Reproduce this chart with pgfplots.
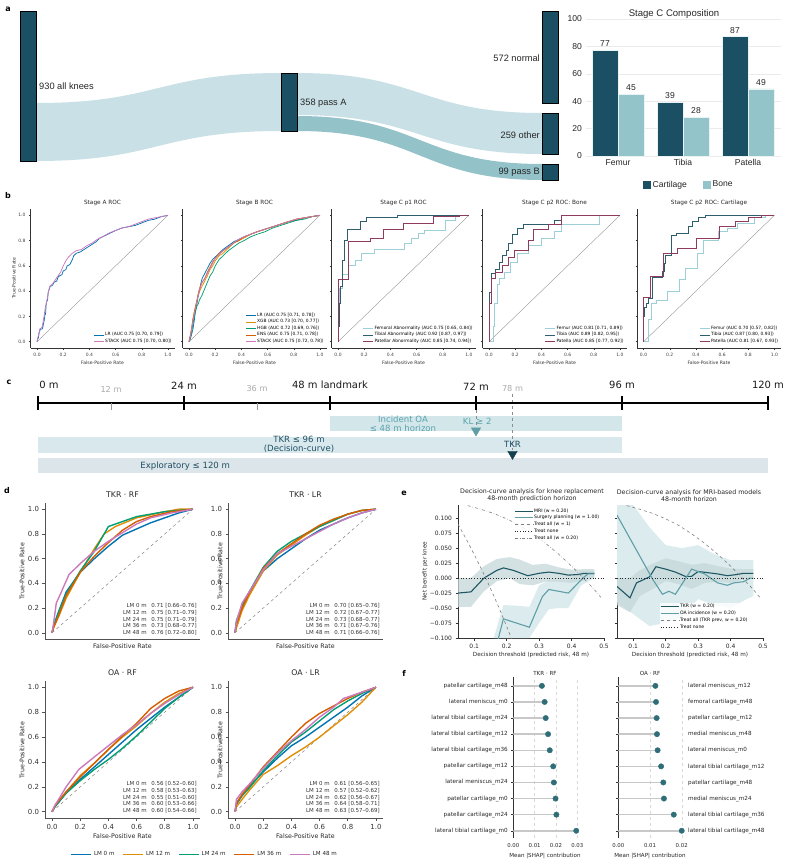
\documentclass[border=0pt]{standalone}
\usepackage{pgfplots}
\pgfplotsset{compat=1.18}
\usepackage{fontspec}
\setmainfont{DejaVu Sans}
\newfontfamily\arial{Liberation Sans}
\newcommand\fs[2]{\fontsize{#1}{#2}\selectfont}

% palette
\definecolor{navy}{HTML}{1B4F63}
\definecolor{flowA}{HTML}{C9E1E6}
\definecolor{flowB}{HTML}{93C2C9}
\definecolor{boneC}{HTML}{93C4C9}
\definecolor{cbBlue}{HTML}{0173B2}
\definecolor{cbOrange}{HTML}{DE8F05}
\definecolor{cbGreen}{HTML}{029E73}
\definecolor{cbRed}{HTML}{D55E00}
\definecolor{cbPink}{HTML}{CC78BC}
\definecolor{femC}{HTML}{9CCFD8}
\definecolor{tibC}{HTML}{2E5E6E}
\definecolor{patC}{HTML}{8E3B5E}
\definecolor{spine}{HTML}{333333}
\definecolor{tkrC}{HTML}{1F5663}
\definecolor{oaC}{HTML}{5F9EA6}
\definecolor{dotC}{HTML}{2F6E78}
\definecolor{stemC}{HTML}{C8C8C8}
\definecolor{barOA}{HTML}{D3E7EB}
\definecolor{barTKR}{HTML}{D8E8EC}
\definecolor{barExp}{HTML}{DCE5E9}
\definecolor{txtOA}{HTML}{5AA3AD}
\definecolor{txtNavy}{HTML}{1D4F63}
\definecolor{grayTxt}{HTML}{AAAAAA}
\definecolor{bandDark}{HTML}{C4D7D9}
\definecolor{bandLight}{HTML}{DCEBED}

\pgfplotsset{
  scale only axis,
  /pgf/number format/assume math mode=true,
  rocb/.style={
    width=144bp, height=139bp,
    xmin=-0.05, xmax=1.05, ymin=-0.05, ymax=1.05,
    axis x line*=bottom, axis y line*=left,
    axis line style={-, spine, line width=0.7pt},
    xtick={0,0.2,0.4,0.6,0.8,1}, ytick={0,0.2,0.4,0.6,0.8,1},
    xticklabels={0.0,0.2,0.4,0.6,0.8,1.0},
    yticklabels={0.0,0.2,0.4,0.6,0.8,1.0},
    tick label style={font=\fs{4.5}{5}, text=black!75},
    tick align=outside, major tick length=1.5bp,
    tick style={spine, line width=0.4pt},
    legend style={at={(0.99,0.02)}, anchor=south east, draw=none,
      fill=white, fill opacity=0.8, text opacity=1,
      font=\fs{4.4}{5}, legend cell align=left,
      nodes={inner sep=0.8bp}, inner sep=0.5bp},
    legend image code/.code={\draw[#1] (0bp,0bp) -- (10bp,0bp);},
    every axis plot/.append style={line width=0.75pt},
  },
  rocd/.style={
    width=155bp, height=136bp,
    xmin=-0.05, xmax=1.05, ymin=-0.05, ymax=1.05,
    axis x line*=bottom, axis y line*=left,
    axis line style={-, spine!85, line width=0.9pt},
    xtick={0,0.2,0.4,0.6,0.8,1}, ytick={0,0.2,0.4,0.6,0.8,1},
    xticklabels={0.0,0.2,0.4,0.6,0.8,1.0},
    yticklabels={0.0,0.2,0.4,0.6,0.8,1.0},
    tick label style={font=\fs{7}{8}, text=black!80},
    tick align=outside, major tick length=2.5bp,
    tick style={spine!85, line width=0.6pt},
    every axis plot/.append style={line width=1.4pt},
  },
  dca/.style={
    width=146bp, height=133bp,
    xmin=0.05, xmax=0.5, ymin=-0.1, ymax=0.122,
    axis x line*=bottom, axis y line*=left,
    axis line style={-, spine, line width=0.8pt},
    xtick={0.1,0.2,0.3,0.4,0.5}, xticklabels={0.1,0.2,0.3,0.4,0.5},
    ytick={-0.1,-0.075,-0.05,-0.025,0,0.025,0.05,0.075,0.1},
    yticklabels={−0.100,−0.075,−0.050,−0.025,0.000,0.025,0.050,0.075,0.100},
    tick label style={font=\fs{6}{7}, text=black!85},
    tick align=outside, major tick length=2.5bp,
    tick style={spine, line width=0.6pt},
    legend style={draw=none, fill=white, fill opacity=0.8, text opacity=1,
      font=\fs{4.6}{5}, legend cell align=left,
      nodes={inner sep=0.9bp}, inner sep=0.5bp},
    legend image code/.code={\draw[#1] (0bp,0bp) -- (18bp,0bp);},
  },
  shap/.style={
    width=64bp, height=161bp, ymin=-0.45, ymax=9.55, xmin=0,
    axis x line*=bottom, axis y line*=left,
    axis line style={-, spine, line width=0.8pt},
    x axis line style={draw=none},
    scaled x ticks=false,
    ytick={0,1,2,3,4,5,6,7,8,9},
    tick label style={font=\fs{5.4}{6}, text=black!85},
    yticklabel style={font=\fs{5.7}{6}},
    xtick style={draw=none},
    ytick style={spine, line width=0.5pt},
    tick align=outside, major tick length=2bp,
    xmajorgrids, grid style={dashed, black!15, line width=0.4pt},
  },
}

\begin{document}
\begin{tikzpicture}
\path[use as bounding box] (0,0) rectangle (794bp,-865bp);

% ---------------- panel letters ----------------
\begin{scope}[every node/.style={font=\bfseries\fs{8}{9}}]
\node at (8bp,-9bp) {a};
\node at (8bp,-196bp) {b};
\node at (9bp,-382bp) {c};
\node at (7bp,-491bp) {d};
\node at (404bp,-493bp) {e};
\node at (404bp,-673bp) {f};
\end{scope}

% ---------------- a: cohort flow ----------------
\begin{axis}[at={(0bp,0bp)}, anchor=north west, width=560bp, height=190bp,
  xmin=0, xmax=560, ymin=0, ymax=190, y dir=reverse, hide axis, clip=false]
  \fill[flowA] (axis cs:36,103) .. controls (axis cs:158,103) and (axis cs:159,73) .. (axis cs:281,73)
     -- (axis cs:281,131) .. controls (axis cs:159,131) and (axis cs:158,161) .. (axis cs:36,161) -- cycle;
  \fill[flowA] (axis cs:297,73) .. controls (axis cs:420,73) and (axis cs:420,113) .. (axis cs:542,113)
     -- (axis cs:542,154) .. controls (axis cs:420,154) and (axis cs:420,115) .. (axis cs:297,115) -- cycle;
  \fill[flowB] (axis cs:297,116) .. controls (axis cs:420,116) and (axis cs:420,164) .. (axis cs:542,164)
     -- (axis cs:542,180) .. controls (axis cs:420,180) and (axis cs:420,131) .. (axis cs:297,131) -- cycle;
  % nodes: 930, 358, 572, 259, 99 knees
  \addplot[fill=navy, draw=black, line width=0.5pt] coordinates {(20,11)(36,11)(36,161)(20,161)(20,11)};
  \addplot[fill=navy, draw=black, line width=0.5pt] coordinates {(281,73)(297,73)(297,131)(281,131)(281,73)};
  \addplot[fill=navy, draw=black, line width=0.5pt] coordinates {(542,11)(558,11)(558,103)(542,103)(542,11)};
  \addplot[fill=navy, draw=black, line width=0.5pt] coordinates {(542,113)(558,113)(558,154)(542,154)(542,113)};
  \addplot[fill=navy, draw=black, line width=0.5pt] coordinates {(542,164)(558,164)(558,180)(542,180)(542,164)};
  \begin{scope}[every node/.style={font=\arial\fs{9.3}{10}, text=black!85, inner sep=1bp}]
  \node[anchor=west] at (axis cs:38,86) {930 all knees};
  \node[anchor=west] at (axis cs:299,103) {358 pass A};
  \node[anchor=east] at (axis cs:541,58) {572 normal};
  \node[anchor=east] at (axis cs:541,135) {259 other};
  \node[anchor=east] at (axis cs:541,172) {99 pass B};
  \end{scope}
\end{axis}

% ---------------- a: stage C composition ----------------
\node[font=\arial\fs{9.6}{10}, text=black!85] at (674bp,-14bp) {Stage C Composition};
\begin{axis}[at={(585.5bp,-156bp)}, anchor=south west, width=195bp, height=137bp,
  xmin=-0.5, xmax=2.5, ymin=0, ymax=100,
  xtick={0,1,2}, xticklabels={Femur,Tibia,Patella},
  ytick={0,20,40,60,80,100},
  axis line style={draw=none}, tick style={draw=none},
  ymajorgrids, grid style={black!8, line width=0.5pt},
  tick label style={font=\arial\fs{8.6}{9}, text=black!85},
  legend style={at={(0.53,-0.21)}, anchor=center, legend columns=2, draw=none,
    font=\arial\fs{8.6}{9}, text=black!85,
    /tikz/every even column/.append style={column sep=14bp}},
  ]
  \addplot[ybar, bar width=0.4, bar shift=-0.2, fill=navy, draw=white!80!boneC, line width=0.7pt,
    nodes near coords, nodes near coords style={font=\arial\fs{8.6}{9}, text=black!85, xshift=-13bp},
    legend image code/.code={\fill[navy] (0bp,-3.5bp) rectangle (7bp,3.5bp);}]
    coordinates {(0,77)(1,39)(2,87)};
  \addlegendentry{Cartilage}
  \addplot[ybar, bar width=0.4, bar shift=0.2, fill=boneC, draw=white!80!boneC, line width=0.7pt,
    nodes near coords, nodes near coords style={font=\arial\fs{8.6}{9}, text=black!85, xshift=13bp},
    legend image code/.code={\fill[boneC] (0bp,-3.5bp) rectangle (7bp,3.5bp);}]
    coordinates {(0,45)(1,28)(2,49)};
  \addlegendentry{Bone}
\end{axis}

% ---------------- b: ROC by stage ----------------
\begin{scope}[every node/.style={font=\fs{5.8}{6}, text=black!85}]
\node at (102.5bp,-203bp) {Stage A ROC};
\node at (254.5bp,-203bp) {Stage B ROC};
\node at (403.5bp,-203bp) {Stage C p1 ROC};
\node at (554.5bp,-203bp) {Stage C p2 ROC: Bone};
\node at (709bp,-203bp) {Stage C p2 ROC: Cartilage};
\end{scope}
\begin{scope}[every node/.style={font=\fs{4.6}{5}, text=black!80}]
\node[rotate=90] at (14bp,-278bp) {True-Positive Rate};
\node at (102.5bp,-363bp) {False-Positive Rate};
\node at (254.5bp,-363bp) {False-Positive Rate};
\node at (403.5bp,-363bp) {False-Positive Rate};
\node at (554.5bp,-363bp) {False-Positive Rate};
\node at (709bp,-363bp) {False-Positive Rate};
\end{scope}

\begin{axis}[rocb, at={(30.5bp,-348bp)}, anchor=south west]
  \addplot[black!45, line width=0.35pt, forget plot] coordinates {(0,0)(1,1)};
  \addplot[cbBlue] coordinates {(0,0)(0.005,0.02)(0.01,0.03)(0.015,0.07)(0.02,0.08)(0.025,0.1)(0.04,0.1)(0.045,0.12)(0.055,0.17)(0.06,0.21)(0.065,0.22)(0.07,0.3)(0.075,0.32)(0.08,0.33)(0.085,0.39)(0.095,0.42)(0.1,0.44)(0.11,0.44)(0.12,0.45)(0.13,0.47)(0.15,0.48)(0.16,0.51)(0.17,0.52)(0.19,0.53)(0.2,0.56)(0.22,0.57)(0.23,0.6)(0.25,0.61)(0.27,0.65)(0.28,0.68)(0.3,0.7)(0.33,0.71)(0.36,0.73)(0.39,0.75)(0.42,0.77)(0.45,0.79)(0.48,0.82)(0.52,0.84)(0.56,0.86)(0.6,0.88)(0.65,0.9)(0.7,0.91)(0.75,0.92)(0.8,0.94)(0.85,0.96)(0.9,0.97)(0.95,0.99)(1,1)};
  \addlegendentry{LR (AUC 0.75 [0.70, 0.79])}
  \addplot[cbPink] coordinates {(0,0)(0.005,0.03)(0.015,0.06)(0.02,0.1)(0.035,0.11)(0.04,0.12)(0.05,0.18)(0.055,0.21)(0.06,0.25)(0.065,0.28)(0.07,0.3)(0.08,0.35)(0.09,0.41)(0.1,0.44)(0.12,0.46)(0.14,0.49)(0.16,0.52)(0.18,0.55)(0.2,0.6)(0.22,0.64)(0.24,0.67)(0.27,0.7)(0.3,0.72)(0.34,0.73)(0.38,0.76)(0.42,0.78)(0.46,0.81)(0.5,0.83)(0.55,0.86)(0.6,0.88)(0.65,0.9)(0.7,0.91)(0.75,0.93)(0.8,0.95)(0.85,0.97)(0.9,0.98)(0.95,0.99)(1,1)};
  \addlegendentry{STACK (AUC 0.75 [0.70, 0.80])}
\end{axis}

\begin{axis}[rocb, at={(182.5bp,-348bp)}, anchor=south west, yticklabels={}]
  \addplot[black!45, line width=0.35pt, forget plot] coordinates {(0,0)(1,1)};
  \addplot[cbBlue] coordinates {(0,0)(0.01,0.02)(0.02,0.06)(0.03,0.1)(0.04,0.17)(0.05,0.25)(0.06,0.3)(0.07,0.36)(0.08,0.4)(0.09,0.46)(0.1,0.5)(0.12,0.54)(0.14,0.58)(0.16,0.62)(0.18,0.65)(0.2,0.67)(0.23,0.7)(0.26,0.73)(0.3,0.76)(0.34,0.79)(0.38,0.81)(0.42,0.83)(0.47,0.85)(0.52,0.87)(0.58,0.89)(0.64,0.91)(0.7,0.93)(0.76,0.95)(0.82,0.96)(0.88,0.98)(0.94,0.99)(1,1)};
  \addlegendentry{LR (AUC 0.75 [0.71, 0.78])}
  \addplot[cbOrange] coordinates {(0,0)(0.01,0.05)(0.02,0.1)(0.03,0.18)(0.04,0.24)(0.05,0.28)(0.06,0.33)(0.07,0.37)(0.08,0.4)(0.1,0.44)(0.12,0.48)(0.14,0.52)(0.16,0.57)(0.18,0.6)(0.2,0.64)(0.23,0.68)(0.26,0.7)(0.3,0.74)(0.34,0.78)(0.38,0.8)(0.42,0.82)(0.47,0.85)(0.52,0.87)(0.58,0.89)(0.64,0.91)(0.7,0.93)(0.76,0.95)(0.82,0.97)(0.88,0.98)(0.94,0.99)(1,1)};
  \addlegendentry{XGB (AUC 0.73 [0.70, 0.77])}
  \addplot[cbGreen] coordinates {(0,0)(0.01,0.04)(0.02,0.08)(0.03,0.14)(0.04,0.2)(0.05,0.24)(0.06,0.28)(0.07,0.3)(0.08,0.33)(0.1,0.37)(0.12,0.42)(0.14,0.47)(0.16,0.52)(0.18,0.55)(0.2,0.6)(0.23,0.65)(0.26,0.68)(0.3,0.72)(0.34,0.75)(0.38,0.78)(0.42,0.8)(0.47,0.83)(0.52,0.85)(0.58,0.87)(0.64,0.9)(0.7,0.92)(0.76,0.94)(0.82,0.96)(0.88,0.97)(0.94,0.99)(1,1)};
  \addlegendentry{HGB (AUC 0.72 [0.69, 0.76])}
  \addplot[cbRed] coordinates {(0,0)(0.01,0.05)(0.02,0.11)(0.03,0.18)(0.04,0.23)(0.05,0.28)(0.06,0.32)(0.07,0.38)(0.08,0.42)(0.09,0.45)(0.1,0.47)(0.12,0.5)(0.14,0.55)(0.16,0.59)(0.18,0.63)(0.2,0.66)(0.23,0.7)(0.26,0.72)(0.3,0.75)(0.34,0.78)(0.38,0.8)(0.42,0.83)(0.47,0.85)(0.52,0.87)(0.58,0.89)(0.64,0.91)(0.7,0.93)(0.76,0.95)(0.82,0.97)(0.88,0.98)(0.94,0.99)(1,1)};
  \addlegendentry{ENS (AUC 0.75 [0.71, 0.78])}
  \addplot[cbPink] coordinates {(0,0)(0.01,0.04)(0.02,0.1)(0.03,0.17)(0.04,0.22)(0.05,0.27)(0.06,0.32)(0.07,0.37)(0.08,0.42)(0.09,0.44)(0.1,0.47)(0.12,0.5)(0.14,0.54)(0.16,0.58)(0.18,0.62)(0.2,0.66)(0.23,0.69)(0.26,0.72)(0.3,0.75)(0.34,0.78)(0.38,0.81)(0.42,0.83)(0.47,0.85)(0.52,0.87)(0.58,0.89)(0.64,0.91)(0.7,0.93)(0.76,0.95)(0.82,0.97)(0.88,0.98)(0.94,0.99)(1,1)};
  \addlegendentry{STACK (AUC 0.75 [0.72, 0.78])}
\end{axis}

\begin{axis}[rocb, at={(331.5bp,-348bp)}, anchor=south west, yticklabels={}]
  \addplot[black!45, line width=0.35pt, forget plot] coordinates {(0,0)(1,1)};
  \addplot[femC] coordinates {(0,0)(0,0.2)(0.01,0.2)(0.01,0.42)(0.03,0.42)(0.03,0.53)(0.08,0.53)(0.08,0.6)(0.13,0.6)(0.13,0.64)(0.18,0.64)(0.18,0.7)(0.28,0.7)(0.28,0.73)(0.51,0.73)(0.51,0.78)(0.56,0.78)(0.56,0.82)(0.61,0.82)(0.61,0.86)(0.66,0.86)(0.66,0.88)(0.82,0.88)(0.82,0.96)(0.9,0.96)(0.9,1)(1,1)};
  \addlegendentry{Femoral Abnormality (AUC 0.75 [0.65, 0.84])}
  \addplot[tibC] coordinates {(0,0)(0,0.12)(0.01,0.12)(0.01,0.3)(0.015,0.3)(0.015,0.44)(0.03,0.44)(0.03,0.64)(0.05,0.64)(0.05,0.8)(0.07,0.8)(0.07,0.89)(0.17,0.89)(0.17,0.95)(0.22,0.95)(0.22,0.98)(0.45,0.98)(0.45,1)(1,1)};
  \addlegendentry{Tibial Abnormality (AUC 0.92 [0.87, 0.97])}
  \addplot[patC] coordinates {(0,0)(0,0.49)(0.08,0.49)(0.08,0.79)(0.25,0.79)(0.25,0.82)(0.35,0.82)(0.35,0.89)(0.5,0.89)(0.5,0.94)(0.73,0.94)(0.73,0.99)(0.93,0.99)(0.93,1)(1,1)};
  \addlegendentry{Patellar Abnormality (AUC 0.85 [0.74, 0.94])}
\end{axis}

\begin{axis}[rocb, at={(482.5bp,-348bp)}, anchor=south west, yticklabels={}]
  \addplot[black!45, line width=0.35pt, forget plot] coordinates {(0,0)(1,1)};
  \addplot[femC] coordinates {(0,0)(0.03,0)(0.03,0.12)(0.04,0.12)(0.04,0.3)(0.06,0.3)(0.06,0.45)(0.08,0.45)(0.08,0.5)(0.12,0.5)(0.12,0.55)(0.16,0.55)(0.16,0.63)(0.22,0.63)(0.22,0.7)(0.3,0.7)(0.3,0.76)(0.4,0.76)(0.4,0.82)(0.5,0.82)(0.5,0.87)(0.55,0.87)(0.55,0.93)(0.84,0.93)(0.84,1)(1,1)};
  \addlegendentry{Femur (AUC 0.81 [0.71, 0.89])}
  \addplot[tibC] coordinates {(0,0)(0,0.39)(0.02,0.39)(0.02,0.54)(0.05,0.54)(0.05,0.57)(0.08,0.57)(0.08,0.63)(0.1,0.63)(0.1,0.68)(0.13,0.68)(0.13,0.72)(0.15,0.72)(0.15,0.78)(0.18,0.78)(0.18,0.85)(0.22,0.85)(0.22,0.9)(0.26,0.9)(0.26,0.93)(0.5,0.93)(0.5,0.96)(0.55,0.96)(0.55,1)(1,1)};
  \addlegendentry{Tibia (AUC 0.89 [0.82, 0.95])}
  \addplot[patC] coordinates {(0,0)(0,0.3)(0.02,0.3)(0.02,0.5)(0.05,0.5)(0.05,0.55)(0.1,0.55)(0.1,0.6)(0.15,0.6)(0.15,0.67)(0.19,0.67)(0.19,0.72)(0.3,0.72)(0.3,0.8)(0.34,0.8)(0.34,0.89)(0.45,0.89)(0.45,0.93)(0.55,0.93)(0.55,1)(1,1)};
  \addlegendentry{Patella (AUC 0.85 [0.77, 0.92])}
\end{axis}

\begin{axis}[rocb, at={(637bp,-348bp)}, anchor=south west, yticklabels={}]
  \addplot[black!45, line width=0.35pt, forget plot] coordinates {(0,0)(1,1)};
  \addplot[femC] coordinates {(0,0)(0.04,0)(0.04,0.18)(0.06,0.18)(0.06,0.3)(0.1,0.3)(0.1,0.33)(0.18,0.33)(0.18,0.4)(0.27,0.4)(0.27,0.49)(0.32,0.49)(0.32,0.58)(0.41,0.58)(0.41,0.7)(0.46,0.7)(0.46,0.8)(0.57,0.8)(0.57,0.87)(0.64,0.87)(0.64,0.9)(0.72,0.9)(0.72,0.94)(0.85,0.94)(0.85,0.98)(0.93,0.98)(0.93,1)(1,1)};
  \addlegendentry{Femur (AUC 0.70 [0.57, 0.82])}
  \addplot[tibC] coordinates {(0,0)(0,0.2)(0.01,0.2)(0.01,0.27)(0.02,0.27)(0.02,0.3)(0.04,0.3)(0.04,0.34)(0.07,0.34)(0.07,0.51)(0.14,0.51)(0.14,0.56)(0.16,0.56)(0.16,0.62)(0.17,0.62)(0.17,0.68)(0.21,0.68)(0.21,0.84)(0.25,0.84)(0.25,0.86)(0.34,0.86)(0.34,0.91)(0.37,0.91)(0.37,0.95)(0.42,0.95)(0.42,0.98)(0.47,0.98)(0.47,1)(1,1)};
  \addlegendentry{Tibia (AUC 0.87 [0.80, 0.93])}
  \addplot[patC] coordinates {(0,0)(0,0.35)(0.05,0.35)(0.05,0.52)(0.15,0.52)(0.15,0.7)(0.26,0.7)(0.26,0.74)(0.4,0.74)(0.4,0.82)(0.58,0.82)(0.58,0.91)(0.7,0.91)(0.7,0.95)(0.8,0.95)(0.8,0.98)(0.9,0.98)(0.9,1)(1,1)};
  \addlegendentry{Patella (AUC 0.81 [0.67, 0.93])}
\end{axis}

% ---------------- c: study timeline (months) ----------------
\begin{axis}[at={(38bp,-375bp)}, anchor=north west, width=730bp, height=105bp,
  xmin=0, xmax=120, ymin=375, ymax=480, y dir=reverse, hide axis, clip=false]
  \addplot[fill=barOA, draw=none] coordinates {(48,416)(96,416)(96,431)(48,431)};
  \addplot[fill=barTKR, draw=none] coordinates {(0,437)(96,437)(96,453)(0,453)};
  \addplot[fill=barExp, draw=none] coordinates {(0,458)(120,458)(120,473)(0,473)};
  \addplot[black!45, dashed, line width=0.6pt] coordinates {(78,394)(78,450)};
  \addplot[black!45, dashed, line width=0.6pt] coordinates {(72,410)(72,427)};
  \addplot[black, line width=2.4pt, line cap=round] coordinates {(0,403)(120,403)};
  \addplot[black, line width=1.1pt] coordinates {(0,396)(0,410)};
  \addplot[black, line width=1.1pt] coordinates {(24,396)(24,410)};
  \addplot[black, line width=1.1pt] coordinates {(48,396)(48,410)};
  \addplot[black, line width=1.1pt] coordinates {(72,396)(72,410)};
  \addplot[black, line width=1.1pt] coordinates {(96,396)(96,410)};
  \addplot[black, line width=1.1pt] coordinates {(120,396)(120,410)};
  \addplot[black!40, line width=0.7pt] coordinates {(12,403)(12,410)};
  \addplot[black!40, line width=0.7pt] coordinates {(36,403)(36,410)};
  \addplot[only marks, mark=triangle*, mark size=5.5bp, color=oaC,
    mark options={rotate=180, fill=oaC, draw=oaC}] coordinates {(72,430.5)};
  \addplot[only marks, mark=triangle*, mark size=5.5bp, color=navy!80!black,
    mark options={rotate=180, fill=navy!80!black, draw=navy!80!black}] coordinates {(78,454)};
  \begin{scope}[every node/.style={font=\fs{10}{11}, text=black!90, inner sep=0pt}]
  \node[anchor=west] at (axis cs:0.2,385) {0 m};
  \node at (axis cs:24,386) {24 m};
  \node at (axis cs:48,385) {48 m landmark};
  \node at (axis cs:72,387) {72 m};
  \node at (axis cs:96,385) {96 m};
  \node at (axis cs:120,385) {120 m};
  \end{scope}
  \begin{scope}[every node/.style={font=\fs{8.2}{9}, text=grayTxt, inner sep=0pt}]
  \node at (axis cs:12,389) {12 m};
  \node at (axis cs:36,389) {36 m};
  \node at (axis cs:78,389) {78 m};
  \end{scope}
  \node[font=\fs{8.6}{9.2}, text=txtOA, align=center] at (axis cs:60,423.5) {Incident OA\\≤ 48 m horizon};
  \node[font=\fs{8.6}{9}, text=txtOA] at (axis cs:72.2,421) {KL ≥ 2};
  \node[font=\fs{8.6}{9.2}, text=txtNavy, align=center] at (axis cs:42.9,444.5) {TKR ≤ 96 m\\(Decision-curve)};
  \node[font=\fs{8.6}{9}, text=txtNavy] at (axis cs:78,444) {TKR};
  \node[font=\fs{8.6}{9}, text=txtNavy] at (axis cs:24.2,466) {Exploratory ≤ 120 m};
\end{axis}

% ---------------- d: landmark ROC curves ----------------
\begin{scope}[every node/.style={font=\fs{7.8}{8}, text=black!85}]
\node at (122.5bp,-495bp) {TKR · RF};
\node at (305.5bp,-495bp) {TKR · LR};
\node at (122.5bp,-673bp) {OA · RF};
\node at (305.5bp,-673bp) {OA · LR};
\end{scope}
\begin{scope}[every node/.style={font=\fs{6.3}{7}, text=black!85}]
\node[rotate=90] at (22bp,-571bp) {True-Positive Rate};
\node[rotate=90] at (220bp,-571bp) {True-Positive Rate};
\node[rotate=90] at (22bp,-750bp) {True-Positive Rate};
\node[rotate=90] at (220bp,-750bp) {True-Positive Rate};
\node at (122.5bp,-646bp) {False-Positive Rate};
\node at (305.5bp,-646bp) {False-Positive Rate};
\node at (122.5bp,-836bp) {False-Positive Rate};
\node at (305.5bp,-836bp) {False-Positive Rate};
\end{scope}
\begin{scope}[every node/.style={font=\fs{5.5}{6.55}, text=black!80, align=right, anchor=south east, inner sep=0pt}]
\node at (197bp,-635bp) {LM 0 m\hspace{3bp} 0.71 [0.66–0.76]\\LM 12 m\hspace{3bp} 0.75 [0.71–0.79]\\LM 24 m\hspace{3bp} 0.75 [0.71–0.79]\\LM 36 m\hspace{3bp} 0.73 [0.68–0.77]\\LM 48 m\hspace{3bp} 0.76 [0.72–0.80]};
\node at (380bp,-635bp) {LM 0 m\hspace{3bp} 0.70 [0.65–0.76]\\LM 12 m\hspace{3bp} 0.72 [0.67–0.77]\\LM 24 m\hspace{3bp} 0.73 [0.68–0.77]\\LM 36 m\hspace{3bp} 0.71 [0.67–0.76]\\LM 48 m\hspace{3bp} 0.71 [0.66–0.76]};
\node at (197bp,-813bp) {LM 0 m\hspace{3bp} 0.56 [0.52–0.60]\\LM 12 m\hspace{3bp} 0.58 [0.53–0.63]\\LM 24 m\hspace{3bp} 0.55 [0.51–0.60]\\LM 36 m\hspace{3bp} 0.60 [0.53–0.66]\\LM 48 m\hspace{3bp} 0.60 [0.54–0.66]};
\node at (380bp,-813bp) {LM 0 m\hspace{3bp} 0.61 [0.56–0.65]\\LM 12 m\hspace{3bp} 0.57 [0.52–0.62]\\LM 24 m\hspace{3bp} 0.62 [0.56–0.67]\\LM 36 m\hspace{3bp} 0.64 [0.58–0.71]\\LM 48 m\hspace{3bp} 0.63 [0.57–0.69]};
\end{scope}

\begin{axis}[rocd, at={(45bp,-639bp)}, anchor=south west, xtick=\empty]
  \addplot[black!50, dashed, line width=0.5pt] coordinates {(0,0)(1,1)};
  \addplot[cbBlue] coordinates {(0,0)(0.01,0.05)(0.04,0.15)(0.1,0.33)(0.2,0.49)(0.3,0.6)(0.4,0.7)(0.5,0.79)(0.6,0.84)(0.7,0.89)(0.8,0.93)(0.9,0.97)(1,1)};
  \addplot[cbOrange] coordinates {(0,0)(0.01,0.04)(0.05,0.14)(0.1,0.28)(0.2,0.49)(0.3,0.68)(0.37,0.8)(0.45,0.86)(0.6,0.93)(0.8,0.98)(0.9,1)(1,1)};
  \addplot[cbGreen] coordinates {(0,0)(0.01,0.05)(0.05,0.18)(0.1,0.31)(0.2,0.5)(0.3,0.66)(0.4,0.86)(0.5,0.9)(0.6,0.94)(0.8,0.98)(1,1)};
  \addplot[cbRed] coordinates {(0,0)(0.01,0.04)(0.05,0.15)(0.1,0.3)(0.2,0.49)(0.3,0.62)(0.4,0.73)(0.5,0.83)(0.6,0.9)(0.7,0.94)(0.85,0.98)(1,1)};
  \addplot[cbPink] coordinates {(0,0)(0.01,0.07)(0.03,0.24)(0.05,0.29)(0.12,0.47)(0.2,0.56)(0.3,0.66)(0.4,0.74)(0.5,0.81)(0.6,0.88)(0.7,0.93)(0.85,0.97)(1,1)};
\end{axis}

\begin{axis}[rocd, at={(228bp,-639bp)}, anchor=south west, xtick=\empty]
  \addplot[black!50, dashed, line width=0.5pt] coordinates {(0,0)(1,1)};
  \addplot[cbBlue] coordinates {(0,0)(0.01,0.08)(0.05,0.2)(0.1,0.32)(0.2,0.5)(0.3,0.6)(0.4,0.68)(0.5,0.76)(0.6,0.83)(0.7,0.88)(0.8,0.93)(0.9,0.97)(1,1)};
  \addplot[cbOrange] coordinates {(0,0)(0.01,0.04)(0.05,0.18)(0.1,0.3)(0.2,0.5)(0.3,0.63)(0.4,0.71)(0.5,0.79)(0.6,0.86)(0.7,0.91)(0.8,0.96)(0.9,0.99)(1,1)};
  \addplot[cbGreen] coordinates {(0,0)(0.01,0.1)(0.05,0.22)(0.1,0.33)(0.2,0.53)(0.3,0.66)(0.4,0.74)(0.5,0.8)(0.6,0.86)(0.7,0.91)(0.8,0.96)(0.9,0.99)(1,1)};
  \addplot[cbRed] coordinates {(0,0)(0.01,0.07)(0.05,0.2)(0.1,0.32)(0.2,0.52)(0.3,0.64)(0.4,0.72)(0.5,0.8)(0.6,0.87)(0.7,0.92)(0.8,0.96)(0.9,0.99)(1,1)};
  \addplot[cbPink] coordinates {(0,0)(0.01,0.09)(0.05,0.24)(0.1,0.33)(0.2,0.51)(0.3,0.64)(0.4,0.7)(0.5,0.76)(0.6,0.82)(0.7,0.88)(0.8,0.93)(0.9,0.97)(1,1)};
\end{axis}

\begin{axis}[rocd, at={(45bp,-818bp)}, anchor=south west, height=137bp,
  legend style={at={(1.03,-0.265)}, anchor=center, legend columns=5, draw=none,
    font=\fs{5.6}{6}, text=black!85,
    /tikz/every even column/.append style={column sep=6bp}},
  legend image code/.code={\draw[#1, line width=1.6pt] (0bp,0bp) -- (20bp,0bp);}]
  \addplot[black!50, dashed, line width=0.5pt, forget plot] coordinates {(0,0)(1,1)};
  \addplot[cbBlue] coordinates {(0,0)(0.02,0.04)(0.1,0.15)(0.2,0.26)(0.3,0.36)(0.4,0.46)(0.5,0.56)(0.6,0.66)(0.7,0.75)(0.8,0.84)(0.9,0.92)(1,1)};
  \addlegendentry{LM 0 m}
  \addplot[cbOrange] coordinates {(0,0)(0.02,0.04)(0.1,0.16)(0.2,0.29)(0.3,0.39)(0.4,0.5)(0.5,0.6)(0.6,0.69)(0.7,0.79)(0.8,0.88)(0.9,0.95)(1,1)};
  \addlegendentry{LM 12 m}
  \addplot[cbGreen] coordinates {(0,0)(0.02,0.04)(0.1,0.15)(0.2,0.25)(0.3,0.34)(0.4,0.42)(0.5,0.51)(0.6,0.61)(0.7,0.72)(0.8,0.83)(0.9,0.92)(1,1)};
  \addlegendentry{LM 24 m}
  \addplot[cbRed] coordinates {(0,0)(0.02,0.05)(0.1,0.16)(0.2,0.28)(0.3,0.39)(0.4,0.5)(0.5,0.61)(0.6,0.71)(0.7,0.83)(0.8,0.91)(0.9,0.97)(1,1)};
  \addlegendentry{LM 36 m}
  \addplot[cbPink] coordinates {(0,0)(0.02,0.05)(0.1,0.2)(0.19,0.34)(0.3,0.44)(0.4,0.53)(0.5,0.62)(0.6,0.7)(0.7,0.79)(0.8,0.87)(0.9,0.94)(1,1)};
  \addlegendentry{LM 48 m}
\end{axis}

\begin{axis}[rocd, at={(228bp,-818bp)}, anchor=south west, height=137bp]
  \addplot[black!50, dashed, line width=0.5pt] coordinates {(0,0)(1,1)};
  \addplot[cbBlue] coordinates {(0,0)(0.01,0.06)(0.05,0.13)(0.1,0.2)(0.2,0.32)(0.3,0.43)(0.4,0.53)(0.5,0.6)(0.6,0.68)(0.7,0.76)(0.8,0.84)(0.9,0.93)(1,1)};
  \addplot[cbOrange] coordinates {(0,0)(0.01,0.04)(0.05,0.1)(0.1,0.17)(0.2,0.3)(0.3,0.37)(0.4,0.45)(0.5,0.52)(0.6,0.6)(0.7,0.69)(0.8,0.78)(0.9,0.88)(1,1)};
  \addplot[cbGreen] coordinates {(0,0)(0.01,0.07)(0.05,0.13)(0.1,0.19)(0.2,0.33)(0.3,0.45)(0.4,0.56)(0.5,0.64)(0.6,0.73)(0.7,0.82)(0.8,0.89)(0.9,0.95)(1,1)};
  \addplot[cbRed] coordinates {(0,0)(0.01,0.07)(0.05,0.14)(0.1,0.21)(0.2,0.36)(0.3,0.48)(0.4,0.6)(0.5,0.71)(0.6,0.79)(0.7,0.85)(0.8,0.91)(0.9,0.96)(1,1)};
  \addplot[cbPink] coordinates {(0,0)(0.01,0.1)(0.05,0.16)(0.1,0.22)(0.2,0.35)(0.3,0.47)(0.4,0.57)(0.5,0.66)(0.6,0.76)(0.7,0.84)(0.77,0.91)(0.9,0.96)(1,1)};
\end{axis}

% ---------------- e: decision curves ----------------
\begin{scope}[every node/.style={font=\fs{6.3}{7.3}, text=black!85, align=center}]
\node at (532bp,-495.5bp) {Decision-curve analysis for knee replacement\\48-month prediction horizon};
\node at (689bp,-495.5bp) {Decision-curve analysis for MRI-based models\\48-month horizon};
\end{scope}
\begin{scope}[every node/.style={font=\fs{5.7}{6}, text=black!85}]
\node[rotate=90] at (425bp,-571bp) {Net benefit per knee};
\node at (531bp,-655bp) {Decision threshold (predicted risk, 48 m)};
\node at (690bp,-655bp) {Decision threshold (predicted risk, 48 m)};
\end{scope}

\begin{axis}[dca, at={(458bp,-638bp)}, anchor=south west,
  legend style={at={(0.38,0.985)}, anchor=north west}]
  \addplot[fill=bandLight, draw=none, forget plot] coordinates {(0.16,-0.1)(0.19,-0.045)(0.23,-0.046)(0.27,-0.048)(0.30,-0.012)(0.33,-0.004)(0.36,-0.004)(0.39,-0.004)(0.43,0.012)(0.47,0.012)(0.47,0.0)(0.43,-0.012)(0.39,-0.05)(0.36,-0.05)(0.33,-0.052)(0.30,-0.075)(0.27,-0.1)(0.19,-0.1)};
  \addplot[fill=bandDark, fill opacity=0.75, draw=none, forget plot] coordinates {(0.05,0.0)(0.09,0.0)(0.13,0.02)(0.17,0.032)(0.21,0.035)(0.24,0.031)(0.28,0.022)(0.32,0.024)(0.36,0.018)(0.40,0.014)(0.44,0.015)(0.47,0.015)(0.47,0.001)(0.44,-0.004)(0.40,-0.008)(0.36,-0.006)(0.32,-0.006)(0.28,-0.012)(0.24,-0.01)(0.21,0.0)(0.17,-0.005)(0.13,-0.022)(0.09,-0.048)(0.05,-0.048)};
  \addplot[tkrC, line width=1.1pt] coordinates {(0.05,-0.025)(0.09,-0.023)(0.13,0.0)(0.17,0.013)(0.19,0.017)(0.22,0.013)(0.265,0.004)(0.30,0.008)(0.33,0.010)(0.36,0.008)(0.39,0.005)(0.42,0.006)(0.44,0.008)(0.47,0.008)};
  \addlegendentry{MRI (w = 0.20)}
  \addplot[oaC, line width=1.1pt] coordinates {(0.165,-0.12)(0.19,-0.068)(0.27,-0.082)(0.31,-0.031)(0.33,-0.019)(0.39,-0.025)(0.435,0.0)(0.45,0.007)(0.47,0.007)};
  \addlegendentry{Surgery planning (w = 1.00)}
  \addplot[black!50, dashed, line width=0.6pt] coordinates {(0.05,0.0900)(0.08,0.0603)(0.10,0.0394)(0.12,0.0176)(0.14,-0.0052)(0.16,-0.0292)(0.18,-0.0543)(0.20,-0.0806)(0.215,-0.1013)};
  \addlegendentry{Treat all (w = 1)}
  \addplot[black!85, dotted, line width=0.7pt] coordinates {(0.05,0)(0.5,0)};
  \addlegendentry{Treat none}
  \addplot[black!50, dash dot, line width=0.6pt] coordinates {(0.08,0.121)(0.12,0.115)(0.16,0.108)(0.20,0.099)(0.24,0.088)(0.28,0.074)(0.32,0.058)(0.36,0.040)(0.40,0.020)(0.44,-0.002)(0.47,-0.019)(0.49,-0.032)};
  \addlegendentry{Treat all (w = 0.20)}
\end{axis}

\begin{axis}[dca, at={(617bp,-638bp)}, anchor=south west, yticklabels={},
  legend style={at={(0.29,0.265)}, anchor=north west}]
  \addplot[fill=bandLight, draw=none, forget plot] coordinates {(0.05,0.122)(0.1,0.122)(0.15,0.085)(0.2,0.055)(0.25,0.05)(0.3,0.055)(0.35,0.04)(0.4,0.03)(0.45,0.03)(0.47,0.03)(0.47,-0.03)(0.45,-0.035)(0.4,-0.05)(0.35,-0.045)(0.3,-0.035)(0.25,-0.065)(0.2,-0.075)(0.15,-0.08)(0.1,-0.06)(0.05,-0.04)};
  \addplot[fill=bandDark, fill opacity=0.75, draw=none, forget plot] coordinates {(0.05,0.0)(0.09,0.0)(0.12,0.013)(0.16,0.024)(0.2,0.033)(0.24,0.028)(0.28,0.022)(0.32,0.025)(0.36,0.02)(0.40,0.016)(0.44,0.015)(0.47,0.015)(0.47,0.001)(0.44,-0.002)(0.40,-0.008)(0.36,-0.006)(0.32,-0.008)(0.28,-0.018)(0.24,-0.01)(0.2,-0.005)(0.16,-0.018)(0.12,-0.03)(0.09,-0.057)(0.05,-0.045)};
  \addplot[tkrC, line width=1.1pt] coordinates {(0.05,-0.014)(0.09,-0.033)(0.11,-0.008)(0.15,0.002)(0.17,0.019)(0.20,0.015)(0.23,0.01)(0.26,0.003)(0.28,0.003)(0.30,0.011)(0.33,0.009)(0.36,0.007)(0.39,0.004)(0.42,0.006)(0.44,0.008)(0.47,0.008)};
  \addlegendentry{TKR (w = 0.20)}
  \addplot[oaC, line width=1.1pt] coordinates {(0.05,0.105)(0.16,-0.002)(0.19,-0.027)(0.21,-0.022)(0.23,-0.027)(0.28,0.015)(0.32,0.007)(0.36,-0.008)(0.39,-0.012)(0.41,-0.008)(0.44,-0.006)(0.46,0.0)(0.47,0.0)};
  \addlegendentry{OA incidence (w = 0.20)}
  \addplot[black!50, dashed, line width=0.6pt] coordinates {(0.08,0.121)(0.12,0.115)(0.16,0.108)(0.20,0.099)(0.24,0.088)(0.28,0.074)(0.32,0.058)(0.36,0.040)(0.40,0.020)(0.44,-0.002)(0.47,-0.019)(0.49,-0.032)};
  \addlegendentry{Treat all (TKR prev, w = 0.20)}
  \addplot[black!85, dotted, line width=0.7pt] coordinates {(0.05,0)(0.5,0)};
  \addlegendentry{Treat none}
\end{axis}

% ---------------- f: feature importance ----------------
\begin{scope}[every node/.style={font=\fs{5.6}{6}, text=black!85}]
\node at (545bp,-673bp) {TKR · RF};
\node at (650bp,-673bp) {OA · RF};
\node at (545bp,-856bp) {Mean |SHAP| contribution};
\node at (650bp,-856bp) {Mean |SHAP| contribution};
\end{scope}

\begin{axis}[shap, at={(513.3bp,-838bp)}, anchor=south west, xmax=0.03,
  xtick={0,0.01,0.02,0.03}, xticklabels={0.00,0.01,0.02,0.03},
  yticklabels={lateral tibial cartilage\_m0, patellar cartilage\_m24, patellar cartilage\_m0, lateral meniscus\_m24, patellar cartilage\_m12, lateral tibial cartilage\_m36, lateral tibial cartilage\_m12, lateral tibial cartilage\_m24, lateral meniscus\_m0, patellar cartilage\_m48}]
  \addplot[xcomb, stemC, line width=1.5pt] coordinates {(0.0295,0)(0.0202,1)(0.0198,2)(0.0190,3)(0.0187,4)(0.0171,5)(0.0163,6)(0.0152,7)(0.0147,8)(0.0134,9)};
  \addplot[only marks, mark=*, mark size=2.7bp, color=dotC, mark options={fill=dotC, draw=dotC}] coordinates {(0.0295,0)(0.0202,1)(0.0198,2)(0.0190,3)(0.0187,4)(0.0171,5)(0.0163,6)(0.0152,7)(0.0147,8)(0.0134,9)};
\end{axis}

\begin{axis}[shap, at={(618.3bp,-838bp)}, anchor=south west, width=63.4bp, xmax=0.02,
  xtick={0,0.01,0.02}, xticklabels={0.00,0.01,0.02},
  yticklabels={}]
  \addplot[xcomb, stemC, line width=1.5pt] coordinates {(0.0200,0)(0.0175,1)(0.0144,2)(0.0142,3)(0.0135,4)(0.0124,5)(0.0122,6)(0.0121,7)(0.0119,8)(0.0117,9)};
  \addplot[only marks, mark=*, mark size=2.7bp, color=dotC, mark options={fill=dotC, draw=dotC}] coordinates {(0.0200,0)(0.0175,1)(0.0144,2)(0.0142,3)(0.0135,4)(0.0124,5)(0.0122,6)(0.0121,7)(0.0119,8)(0.0117,9)};
\end{axis}
% feature names of the right panel, set beside its right edge
\begin{scope}[every node/.style={font=\fs{5.7}{6}, text=black!85, anchor=west, inner sep=0pt}]
\node at (688bp,-831bp) {lateral tibial cartilage\_m48};
\node at (688bp,-814.9bp) {lateral tibial cartilage\_m36};
\node at (688bp,-798.8bp) {medial meniscus\_m24};
\node at (688bp,-782.7bp) {patellar cartilage\_m48};
\node at (688bp,-766.6bp) {lateral tibial cartilage\_m12};
\node at (688bp,-750.5bp) {lateral meniscus\_m0};
\node at (688bp,-734.4bp) {medial meniscus\_m48};
\node at (688bp,-718.3bp) {patellar cartilage\_m12};
\node at (688bp,-702.2bp) {femoral cartilage\_m48};
\node at (688bp,-686.1bp) {lateral meniscus\_m12};
\end{scope}

\end{tikzpicture}
\end{document}
